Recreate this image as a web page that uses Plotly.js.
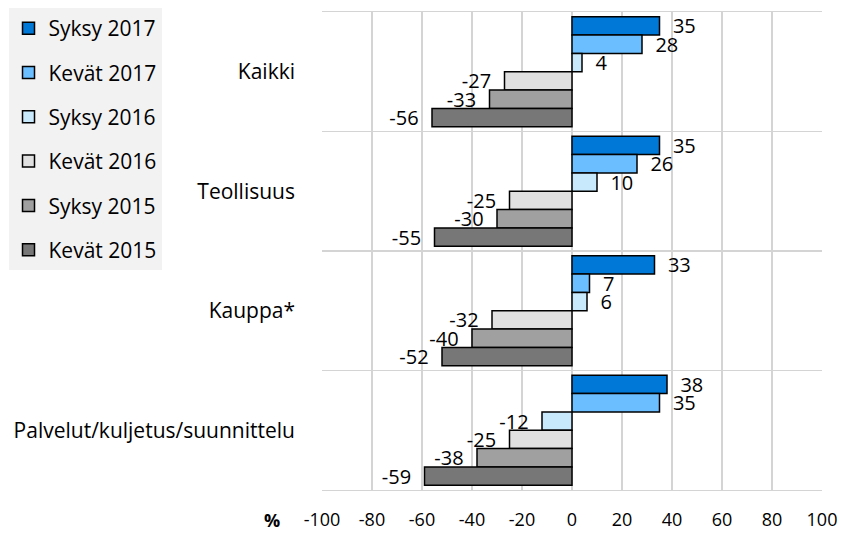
<!DOCTYPE html>
<html>
<head>
<meta charset="utf-8">
<script src="https://cdn.plot.ly/plotly-3.0.1.min.js"></script>
<style>html,body{margin:0;padding:0;background:#fff;}#chart{width:841px;height:533px;}</style>
</head>
<body>
<div id="chart"></div>
<script>
const categories = ["Kaikki", "Teollisuus", "Kauppa*", "Palvelut/kuljetus/suunnittelu"];
const seriesNames = ["Syksy 2017", "Kevät 2017", "Syksy 2016", "Kevät 2016", "Syksy 2015", "Kevät 2015"];
const syksy2017 = [35, 35, 33, 38];
const kevat2017 = [28, 26, 7, 35];
const syksy2016 = [4, 10, 6, -12];
const kevat2016 = [-27, -25, -32, -25];
const syksy2015 = [-33, -30, -40, -38];
const kevat2015 = [-56, -55, -52, -59];
const xTicks = [-100, -80, -60, -40, -20, 0, 20, 40, 60, 80, 100];

const seriesValues = [syksy2017, kevat2017, syksy2016, kevat2016, syksy2015, kevat2015];
const colors = ["#0078D7", "#6BBEFF", "#C8E8FC", "#E0E0E0", "#A0A0A0", "#777777"];
const FONT = "Open Sans, Noto Sans, sans-serif";
const PAD = "\u00a0\u00a0";

const traces = seriesNames.map((name, i) => ({
  type: "bar",
  orientation: "h",
  name: name,
  legendgroup: "g" + i,
  y: categories,
  x: seriesValues[i],
  text: seriesValues[i].map(v => v >= 0 ? PAD + v : v + PAD),
  textposition: "outside",
  constraintext: "none",
  cliponaxis: false,
  textfont: {family: FONT, size: 20, color: "#000"},
  marker: {color: colors[i], line: {color: "#000", width: 1.5}},
  hoverinfo: "x+name"
}));

const layout = {
  width: 841, height: 533,
  margin: {l: 318, r: 19, t: 8, b: 43},
  paper_bgcolor: "#fff", plot_bgcolor: "#fff",
  font: {family: FONT, size: 18, color: "#000"},
  barmode: "group",
  bargap: 0.08,
  bargroupgap: 0,
  showlegend: true,
  legend: {
    x: (2 - 318) / 504, y: (490 - 4) / 482, xanchor: "left", yanchor: "top",
    bgcolor: "#F2F2F2",
    font: {family: FONT, size: 21, color: "#000"},
    tracegroupgap: 14,
    traceorder: "grouped"
  },
  xaxis: {
    range: [-100, 100],
    tickvals: xTicks,
    ticktext: xTicks.map(String),
    showgrid: true, gridcolor: "#D4D4D4", gridwidth: 1.3,
    zeroline: false,
    showline: true, mirror: true, linecolor: "#D4D4D4", linewidth: 1.3,
    ticks: "",
    ticklabelstandoff: 13,
    tickfont: {family: FONT, size: 18, color: "#000"}
  },
  yaxis: {
    type: "category",
    autorange: "reversed",
    tickson: "boundaries",
    showgrid: true, gridcolor: "#D4D4D4", gridwidth: 1.3,
    zeroline: false,
    ticks: "",
    ticklabelstandoff: 26,
    tickfont: {family: FONT, size: 21, color: "#000"}
  },
  annotations: [{
    xref: "paper", yref: "paper",
    x: (268 - 318) / 504, y: -(520 - 490) / 482,
    xanchor: "center", yanchor: "middle",
    text: "<b>%</b>", showarrow: false,
    font: {family: FONT, size: 18, color: "#000"}
  }]
};

Plotly.newPlot("chart", traces, layout, {displayModeBar: false, staticPlot: true});
</script>
</body>
</html>
